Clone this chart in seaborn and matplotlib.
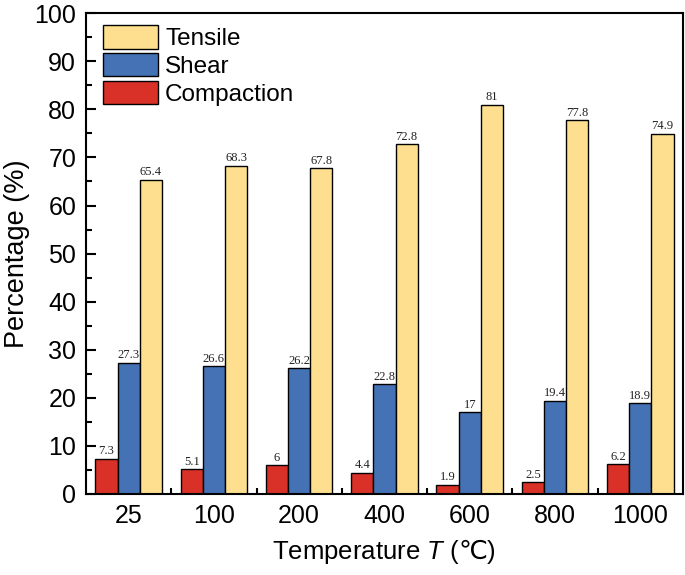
import numpy as np
import pandas as pd
import seaborn as sns
import matplotlib.pyplot as plt
from matplotlib.ticker import MultipleLocator, FixedLocator

temperatures = ["25", "100", "200", "400", "600", "800", "1000"]
compaction = [7.3, 5.1, 6, 4.4, 1.9, 2.5, 6.2]
shear = [27.3, 26.6, 26.2, 22.8, 17, 19.4, 18.9]
tensile = [65.4, 68.3, 67.8, 72.8, 81, 77.8, 74.9]

modes = ["Compaction", "Shear", "Tensile"]
colors = ["#D93127", "#4472B5", "#FDDF8F"]

df = pd.DataFrame({
    "T": temperatures * 3,
    "Mode": np.repeat(modes, len(temperatures)),
    "Value": compaction + shear + tensile,
})

sns.set_style("ticks")
plt.rcParams['font.family'] = ['Liberation Sans', 'DejaVu Sans']
plt.rcParams['mathtext.fontset'] = 'custom'
plt.rcParams['mathtext.it'] = 'Liberation Sans:italic'
plt.rcParams['mathtext.rm'] = 'Liberation Sans'
plt.rcParams['mathtext.sf'] = 'Noto Sans CJK SC'
plt.rcParams['text.color'] = 'black'
plt.rcParams['axes.labelcolor'] = 'black'
plt.rcParams['xtick.color'] = 'black'
plt.rcParams['ytick.color'] = 'black'
plt.rcParams['axes.edgecolor'] = 'black'

fig = plt.figure(figsize=(6.85, 5.75), dpi=100)
ax = fig.add_axes([0.1255, 0.141, 0.8715, 0.836])

sns.barplot(data=df, x="T", y="Value", hue="Mode", order=temperatures,
            hue_order=modes, palette=colors, width=0.78, gap=0,
            edgecolor="black", linewidth=1, saturation=1, legend=False, ax=ax)

for cont in ax.containers:
    ax.bar_label(cont, fmt="%g", padding=1, fontsize=9, color="#222222",
                 family="Liberation Serif")

ax.set_ylim(0, 100)
ax.set_xlim(-0.5, len(temperatures) - 0.5)
ax.yaxis.set_major_locator(MultipleLocator(10))
ax.yaxis.set_minor_locator(MultipleLocator(5))
ax.xaxis.set_minor_locator(FixedLocator(np.arange(0.5, len(temperatures) - 0.5, 1)))
ax.tick_params(axis="both", which="major", direction="in", length=7, width=1.5,
               labelsize=18, pad=7)
ax.tick_params(axis="both", which="minor", direction="in", length=4, width=1.5)
for s in ax.spines.values():
    s.set_linewidth(1.5)
    s.set_visible(True)

ax.set_ylabel("Percentage (%)", fontsize=19.5, labelpad=3)
ax.set_xlabel(r"Temperature $\it{T}$ ($\mathsf{℃}$)", fontsize=18.5, labelpad=7)

handles = list(ax.containers)[::-1]
ax.legend(handles, modes[::-1], loc="upper left", frameon=False, fontsize=17.5,
          handlelength=2.26, handleheight=1.1, handletextpad=0.3,
          labelspacing=0.12, borderaxespad=0, borderpad=0,
          bbox_to_anchor=(0.0285, 0.975))

fig.savefig("out.png", dpi=100)
